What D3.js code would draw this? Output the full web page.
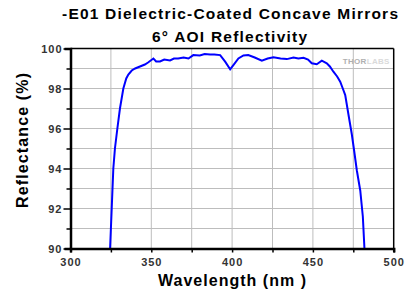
<!DOCTYPE html>
<html>
<head>
<meta charset="UTF-8">
<script src="https://d3js.org/d3.v7.min.js"></script>
<style>
  body { margin: 0; background: #fff; }
  svg { display: block; font-family: "Liberation Sans", Arial, sans-serif; }
  .tick text { font-size: 11px; font-weight: bold; fill: #333; letter-spacing: 1px; }
</style>
</head>
<body>
<svg width="406" height="294"></svg>
<script>
  // wavelength (nm) and reflectance (%)
  const wavelength = [324.5, 325, 325.5, 326, 326.5, 327.5, 329, 330.6, 332.7, 334.5, 335.8, 337.9, 340, 343, 346, 348,
    351.3, 353, 355.4, 358, 361.6, 364, 366.6, 370, 373, 376, 380, 383, 386.4, 389, 392.6, 395.7, 398.8, 400.8,
    403.9, 407, 410, 414, 418.4, 422, 425.6, 430, 433.9, 438, 441, 444.2, 447, 449.3, 452.4, 455.5, 458.6, 460.5,
    462.7, 465, 466.9, 468.5, 470, 472, 474.1, 475.5, 477.2, 479.3, 480.9, 481.9];
  const reflectance = [90, 91, 92, 93, 94, 95, 96, 97, 98, 98.5, 98.7, 98.9, 99.0, 99.1, 99.2, 99.3,
    99.5, 99.35, 99.35, 99.45, 99.4, 99.5, 99.5, 99.55, 99.5, 99.67, 99.65, 99.72, 99.7, 99.7, 99.67, 99.34, 98.96, 99.17,
    99.5, 99.65, 99.67, 99.55, 99.39, 99.5, 99.56, 99.5, 99.47, 99.55, 99.5, 99.54, 99.45, 99.26, 99.21, 99.39, 99.26, 99.1,
    98.84, 98.6, 98.34, 98.0, 97.67, 96.7, 95.7, 94.9, 93.9, 92.9, 91.6, 90];
  const xTicks = [300, 350, 400, 450, 500];
  const yTicks = [90, 92, 94, 96, 98, 100];
  const xGrid = [325, 350, 375, 400, 425, 450, 475];
  const yGrid = [91, 92, 93, 94, 95, 96, 97, 98, 99];

  const svg = d3.select("svg"),
        margin = {top: 48.5, left: 70.5},
        width = 323.2,
        height = 200;

  const g = svg.append("g").attr("transform", `translate(${margin.left},${margin.top})`);

  const x = d3.scaleLinear().domain([300, 500]).range([0, width]);
  const y = d3.scaleLinear().domain([90, 100]).range([height, 0]);

  // grille
  g.append("g").selectAll("line").data(xGrid).join("line")
      .attr("x1", d => x(d)).attr("x2", d => x(d))
      .attr("y1", 0).attr("y2", height)
      .attr("stroke", "#bdbdbd").attr("stroke-width", 1);
  g.append("g").selectAll("line").data(yGrid).join("line")
      .attr("y1", d => y(d)).attr("y2", d => y(d)).attr("x1", 0).attr("x2", width)
      .attr("stroke", "#bdbdbd").attr("stroke-width", 1);

  // cadre haut / droite
  g.append("line").attr("x1", 0).attr("x2", width).attr("y1", 0).attr("y2", 0)
    .attr("stroke", "#000").attr("stroke-width", 1.5);
  g.append("line").attr("x1", width).attr("x2", width).attr("y1", 0).attr("y2", height)
    .attr("stroke", "#000").attr("stroke-width", 1.5);

  // watermark
  const wm = g.append("text").attr("x", width - 4).attr("y", 15).attr("text-anchor", "end")
    .style("font-size", "8px").style("font-weight", "bold").style("letter-spacing", "0.3px");
  wm.append("tspan").attr("fill", "#b0b0b0").text("THOR");
  wm.append("tspan").attr("fill", "#dadada").text("LABS");

  // courbe
  const pts = wavelength.map((w, i) => [w, reflectance[i]]);
  g.append("path")
    .datum(pts)
    .attr("fill", "none")
    .attr("stroke", "#0000ff")
    .attr("stroke-width", 2)
    .attr("d", d3.line().x(d => x(d[0])).y(d => y(d[1])));

  // axe X
  const gx = g.append("g")
    .attr("transform", `translate(0,${height})`)
    .call(d3.axisBottom(x).tickValues([300, 325, 350, 375, 400, 425, 450, 475, 500]).tickSize(4).tickPadding(6)
      .tickFormat(d => xTicks.includes(d) ? d : ""));
  gx.select(".domain").attr("stroke-width", 2.5);
  gx.selectAll(".tick line").attr("stroke-width", 1.5);

  // axe Y
  const gy = g.append("g")
    .call(d3.axisLeft(y).tickValues([90, 91, 92, 93, 94, 95, 96, 97, 98, 99, 100]).tickSize(6).tickPadding(2)
      .tickFormat(d => yTicks.includes(d) ? d : ""));
  gy.select(".domain").attr("stroke-width", 2.5);
  gy.selectAll(".tick line").attr("stroke-width", 1.5)
    .attr("x2", d => yTicks.includes(d) ? -7 : -4);

  // titres
  svg.append("text").attr("x", 230).attr("y", 18.5).attr("text-anchor", "middle")
    .attr("textLength", 336).attr("lengthAdjust", "spacing")
    .style("font-size", "15.5px").style("font-weight", "bold").text("-E01 Dielectric-Coated Concave Mirrors");
  svg.append("text").attr("x", 229.5).attr("y", 41.5).attr("text-anchor", "middle")
    .attr("textLength", 155).attr("lengthAdjust", "spacing")
    .style("font-size", "15.5px").style("font-weight", "bold").text("6° AOI Reflectivity");

  svg.append("text").attr("x", 232).attr("y", 286).attr("text-anchor", "middle")
    .attr("textLength", 148).attr("lengthAdjust", "spacing")
    .style("font-size", "16px").style("font-weight", "bold").text("Wavelength (nm )");

  svg.append("text").attr("transform", "translate(27.5,140.5) rotate(-90)").attr("text-anchor", "middle")
    .attr("textLength", 135).attr("lengthAdjust", "spacing")
    .style("font-size", "16px").style("font-weight", "bold").text("Reflectance (%)");
</script>
</body>
</html>
